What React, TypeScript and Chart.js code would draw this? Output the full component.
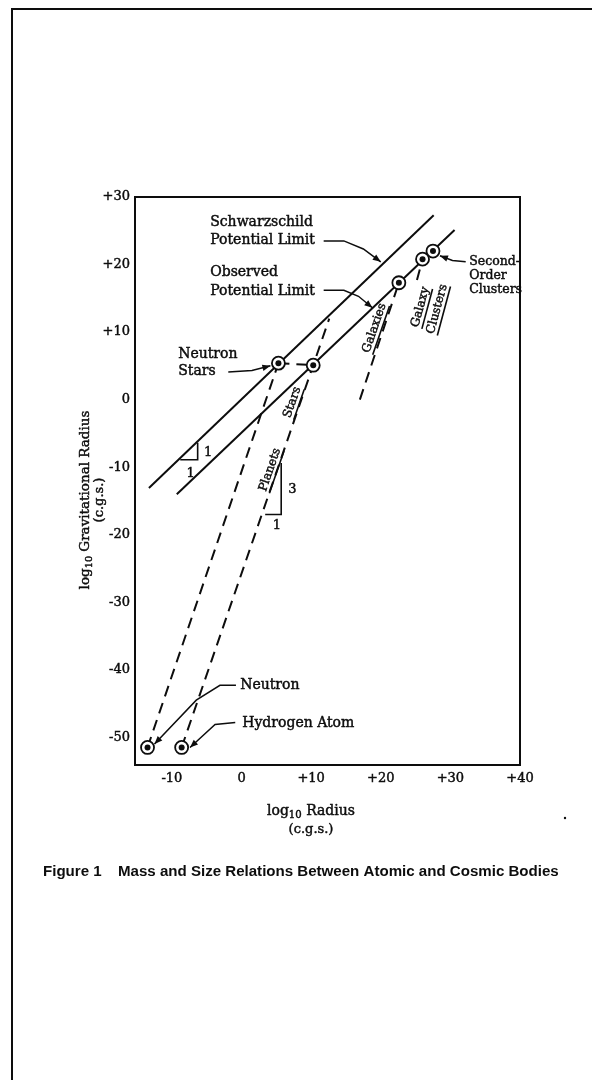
import React, { useEffect, useRef } from "react";
import { Chart, registerables } from "chart.js";

Chart.register(...registerables);

// ---- data (log10 values, c.g.s.) ----
const xTickValues = [-10, 0, 10, 20, 30, 40];
const yTickValues = [30, 20, 10, 0, -10, -20, -30, -40, -50];

const bodyNames = [
  "Neutron",
  "Hydrogen Atom",
  "Neutron Stars",
  "Stars",
  "Galaxies",
  "Galaxy Clusters",
  "Second-Order Clusters",
];
const bodyLogRadius = [-13.5, -8.6, 5.3, 10.3, 22.6, 26.0, 27.5];
const bodyLogGravRadius = [-51.5, -51.5, 5.4, 5.1, 17.3, 20.8, 22.0];

const schwarzschildX = [-13.3, 27.6];
const schwarzschildY = [-13.1, 27.3];
const observedX = [-9.3, 30.6];
const observedY = [-14.0, 25.1];
const neutronDensityX = [-13.5, 5.3];
const neutronDensityY = [-51.5, 5.4];
const hydrogenDensityX = [-8.6, 10.3, 12.6];
const hydrogenDensityY = [-51.5, 5.1, 12.0];
const galaxyDensityX = [17.0, 22.6];
const galaxyDensityY = [0.0, 17.3];
const clusterDensityX = [25.2, 26.0];
const clusterDensityY = [17.7, 20.8];
const stellarMassX = [5.3, 10.3];
const stellarMassY = [5.4, 5.1];

const pts = (xs: number[], ys: number[]) => xs.map((x, i) => ({ x, y: ys[i] }));

const INK = "#0d0d0d";
const SERIF = "'DejaVu Serif', serif";

// annotation placements (data units)
const textLabels = [
  { t: "Schwarzschild", x: -4.5, y: 26.3, s: 14 },
  { t: "Potential Limit", x: -4.5, y: 23.6, s: 14 },
  { t: "Observed", x: -4.5, y: 18.8, s: 14 },
  { t: "Potential Limit", x: -4.5, y: 16.1, s: 14 },
  { t: "Neutron", x: -9.1, y: 6.7, s: 14 },
  { t: "Stars", x: -9.1, y: 4.2, s: 14 },
  { t: "Second-", x: 32.7, y: 20.4, s: 12.5 },
  { t: "Order", x: 32.7, y: 18.3, s: 12.5 },
  { t: "Clusters", x: 32.7, y: 16.2, s: 12.5 },
  { t: "Neutron", x: -0.2, y: -42.3, s: 14 },
  { t: "Hydrogen Atom", x: 0.1, y: -47.9, s: 14 },
  { t: "1", x: -5.4, y: -7.8, s: 13 },
  { t: "1", x: -7.9, y: -10.9, s: 13 },
  { t: "3", x: 6.7, y: -13.4, s: 13 },
  { t: "1", x: 4.5, y: -18.6, s: 13 },
];

const rotatedLabels = [
  { t: "Galaxies", x: 19.1, y: 10.6, a: -71 },
  { t: "Stars", x: 7.3, y: -0.4, a: -71 },
  { t: "Planets", x: 4.1, y: -10.4, a: -71 },
  { t: "Galaxy", x: 25.7, y: 13.7, a: -75 },
  { t: "Clusters", x: 28.1, y: 13.4, a: -75 },
];

const leaders = [
  [[11.8, 23.5], [14.7, 23.5], [17.5, 22.3], [20.0, 20.4]],
  [[11.8, 16.2], [14.7, 16.2], [16.8, 15.3], [18.8, 13.6]],
  [[-1.9, 4.1], [1.5, 4.3], [4.15, 5.0]],
  [[32.2, 20.4], [30.3, 20.6], [28.5, 21.3]],
  [[-0.8, -42.3], [-3.1, -42.3], [-6.5, -44.5], [-12.5, -51.0]],
  [[-0.9, -47.8], [-3.8, -48.1], [-7.4, -51.5]],
];

const slopeTriangles = [
  [[-8.8, -8.9], [-6.3, -8.9], [-6.3, -6.4]],
  [[3.4, -17.0], [5.7, -17.0], [5.7, -9.4]],
];

const annotationPlugin = {
  id: "annotations",
  afterDraw(chart: any) {
    const { ctx, chartArea: ca } = chart;
    const xs = chart.scales.x;
    const ys = chart.scales.y;
    const px = (v: number) => xs.getPixelForValue(v);
    const py = (v: number) => ys.getPixelForValue(v);
    ctx.save();
    ctx.strokeStyle = INK;
    ctx.fillStyle = INK;

    const inkText = (t: string, x: number, y: number) => {
      ctx.fillText(t, x, y);
      ctx.save();
      ctx.lineWidth = 0.45;
      ctx.strokeText(t, x, y);
      ctx.restore();
    };

    // page frame
    ctx.lineWidth = 2;
    ctx.beginPath();
    ctx.moveTo(12, 1080);
    ctx.lineTo(12, 9);
    ctx.lineTo(592, 9);
    ctx.stroke();

    // plot box
    ctx.lineWidth = 2;
    ctx.strokeRect(ca.left, ca.top, ca.right - ca.left, ca.bottom - ca.top);

    // slope triangles
    ctx.lineWidth = 1.6;
    for (const tri of slopeTriangles) {
      ctx.beginPath();
      tri.forEach(([a, b], i) => (i ? ctx.lineTo(px(a), py(b)) : ctx.moveTo(px(a), py(b))));
      ctx.stroke();
    }

    // leader lines with arrowheads
    ctx.lineWidth = 1.5;
    for (const l of leaders) {
      ctx.beginPath();
      l.forEach(([a, b], i) => (i ? ctx.lineTo(px(a), py(b)) : ctx.moveTo(px(a), py(b))));
      ctx.stroke();
      const [a1, b1] = l[l.length - 2];
      const [a2, b2] = l[l.length - 1];
      const x1 = px(a1), y1 = py(b1), x2 = px(a2), y2 = py(b2);
      const ang = Math.atan2(y2 - y1, x2 - x1);
      const L = 8, W = 3.2;
      ctx.beginPath();
      ctx.moveTo(x2, y2);
      ctx.lineTo(x2 - L * Math.cos(ang) + W * Math.sin(ang), y2 - L * Math.sin(ang) - W * Math.cos(ang));
      ctx.lineTo(x2 - L * Math.cos(ang) - W * Math.sin(ang), y2 - L * Math.sin(ang) + W * Math.cos(ang));
      ctx.closePath();
      ctx.fill();
    }

    // plain labels
    ctx.textBaseline = "middle";
    ctx.textAlign = "left";
    for (const lb of textLabels) {
      ctx.font = `${lb.s}px ${SERIF}`;
      inkText(lb.t, px(lb.x), py(lb.y));
    }

    // rotated, underlined labels
    for (const lb of rotatedLabels) {
      ctx.save();
      ctx.translate(px(lb.x), py(lb.y));
      ctx.rotate((lb.a * Math.PI) / 180);
      ctx.font = `12px ${SERIF}`;
      ctx.textAlign = "center";
      inkText(lb.t, 0, 0);
      const w = ctx.measureText(lb.t).width;
      ctx.lineWidth = 1.6;
      ctx.beginPath();
      ctx.moveTo(-w / 2, 7);
      ctx.lineTo(w / 2, 7);
      ctx.stroke();
      ctx.restore();
    }

    // log10 titles with subscript
    const drawLog = (rest: string, cx: number, cy: number, size: number) => {
      ctx.font = `${size}px ${SERIF}`;
      const w1 = ctx.measureText("log").width;
      const w3 = ctx.measureText(rest).width;
      ctx.font = `${size * 0.72}px ${SERIF}`;
      const w2 = ctx.measureText("10").width;
      let x = cx - (w1 + w2 + w3) / 2;
      ctx.textAlign = "left";
      ctx.font = `${size}px ${SERIF}`;
      inkText("log", x, cy);
      x += w1;
      ctx.font = `${size * 0.72}px ${SERIF}`;
      inkText("10", x, cy + size * 0.3);
      x += w2;
      ctx.font = `${size}px ${SERIF}`;
      inkText(rest, x, cy);
    };

    // x title
    drawLog(" Radius", 311, 811, 14);
    ctx.textAlign = "center";
    ctx.font = `13px ${SERIF}`;
    inkText("(c.g.s.)", 311, 830);

    // y title
    ctx.save();
    ctx.translate(ca.left - 50, 500);
    ctx.rotate(-Math.PI / 2);
    drawLog(" Gravitational Radius", 0, 0, 13.5);
    ctx.restore();
    ctx.save();
    ctx.translate(ca.left - 35, 500);
    ctx.rotate(-Math.PI / 2);
    ctx.textAlign = "center";
    ctx.font = `13px ${SERIF}`;
    inkText("(c.g.s.)", 0, 0);
    ctx.restore();

    // caption
    const capFont = (s: number) => `bold ${s}px 'Liberation Sans', Arial, sans-serif`;
    const capText = "Mass and Size Relations Between Atomic and Cosmic Bodies";
    ctx.font = capFont(13);
    const cw = ctx.measureText(capText).width;
    const cs = (13 * 441) / cw;
    ctx.font = capFont(cs);
    ctx.textAlign = "left";
    ctx.fillText("Figure 1", 43, 872);
    ctx.fillText(capText, 118, 872);

    // small speck near the axis title, as in the scan
    ctx.beginPath();
    ctx.arc(565, 818, 1.2, 0, Math.PI * 2);
    ctx.fill();

    ctx.restore();
  },
};

const lineDs = (label: string, xs: number[], ys: number[], dashed: boolean) => ({
  label,
  data: pts(xs, ys),
  showLine: true,
  borderColor: INK,
  borderWidth: 2,
  borderDash: dashed ? [11, 7] : [],
  pointRadius: 0,
  fill: false,
  tension: 0,
  order: 3,
});

export default function App() {
  const ref = useRef<HTMLCanvasElement>(null);
  useEffect(() => {
    const bodies = pts(bodyLogRadius, bodyLogGravRadius);
    const tickFont = { family: "'DejaVu Serif', serif", size: 13 };
    const chart = new Chart(ref.current as HTMLCanvasElement, {
      type: "scatter",
      data: {
        labels: bodyNames,
        datasets: [
          {
            label: "bodies-core",
            data: bodies,
            pointRadius: 3,
            pointBackgroundColor: INK,
            pointBorderWidth: 0,
            order: 0,
          },
          {
            label: "bodies-ring",
            data: bodies,
            pointRadius: 6.5,
            pointBackgroundColor: "#fff",
            pointBorderColor: INK,
            pointBorderWidth: 1.8,
            order: 1,
          },
          lineDs("Schwarzschild Potential Limit", schwarzschildX, schwarzschildY, false),
          lineDs("Observed Potential Limit", observedX, observedY, false),
          lineDs("Neutron density", neutronDensityX, neutronDensityY, true),
          lineDs("Hydrogen density", hydrogenDensityX, hydrogenDensityY, true),
          lineDs("Galaxies", galaxyDensityX, galaxyDensityY, true),
          lineDs("Galaxy Clusters", clusterDensityX, clusterDensityY, true),
          lineDs("Stellar mass", stellarMassX, stellarMassY, true),
        ] as any,
      },
      options: {
        responsive: false,
        animation: false,
        devicePixelRatio: 1,
        layout: { padding: { left: 0, top: 197, right: 72, bottom: 0 } },
        plugins: { legend: { display: false }, tooltip: { enabled: false } },
        scales: {
          x: {
            type: "linear",
            min: -15.3,
            max: 40,
            grid: { display: false, drawTicks: false },
            border: { display: false },
            afterBuildTicks: (s: any) => {
              s.ticks = xTickValues.map((v) => ({ value: v }));
            },
            afterFit: (s: any) => {
              s.height = 315;
            },
            ticks: {
              padding: 6,
              color: INK,
              textStrokeColor: INK,
              textStrokeWidth: 0.45,
              font: tickFont,
              callback: (v: any) => (v > 0 ? "+" + v : String(v)),
              maxRotation: 0,
            },
          },
          y: {
            type: "linear",
            min: -54.1,
            max: 30,
            grid: { display: false, drawTicks: false },
            border: { display: false },
            afterBuildTicks: (s: any) => {
              s.ticks = yTickValues.map((v) => ({ value: v }));
            },
            afterFit: (s: any) => {
              s.width = 135;
            },
            ticks: {
              padding: 5,
              color: INK,
              textStrokeColor: INK,
              textStrokeWidth: 0.45,
              font: tickFont,
              callback: (v: any) => (v > 0 ? "+" + v : String(v)),
            },
          },
        },
      },
      plugins: [annotationPlugin],
    } as any);
    return () => chart.destroy();
  }, []);
  return (
    <div style={{ position: "absolute", left: 0, top: 0, width: 592, height: 1080, background: "#fff" }}>
      <canvas ref={ref} width={592} height={1080} style={{ display: "block" }} />
    </div>
  );
}
